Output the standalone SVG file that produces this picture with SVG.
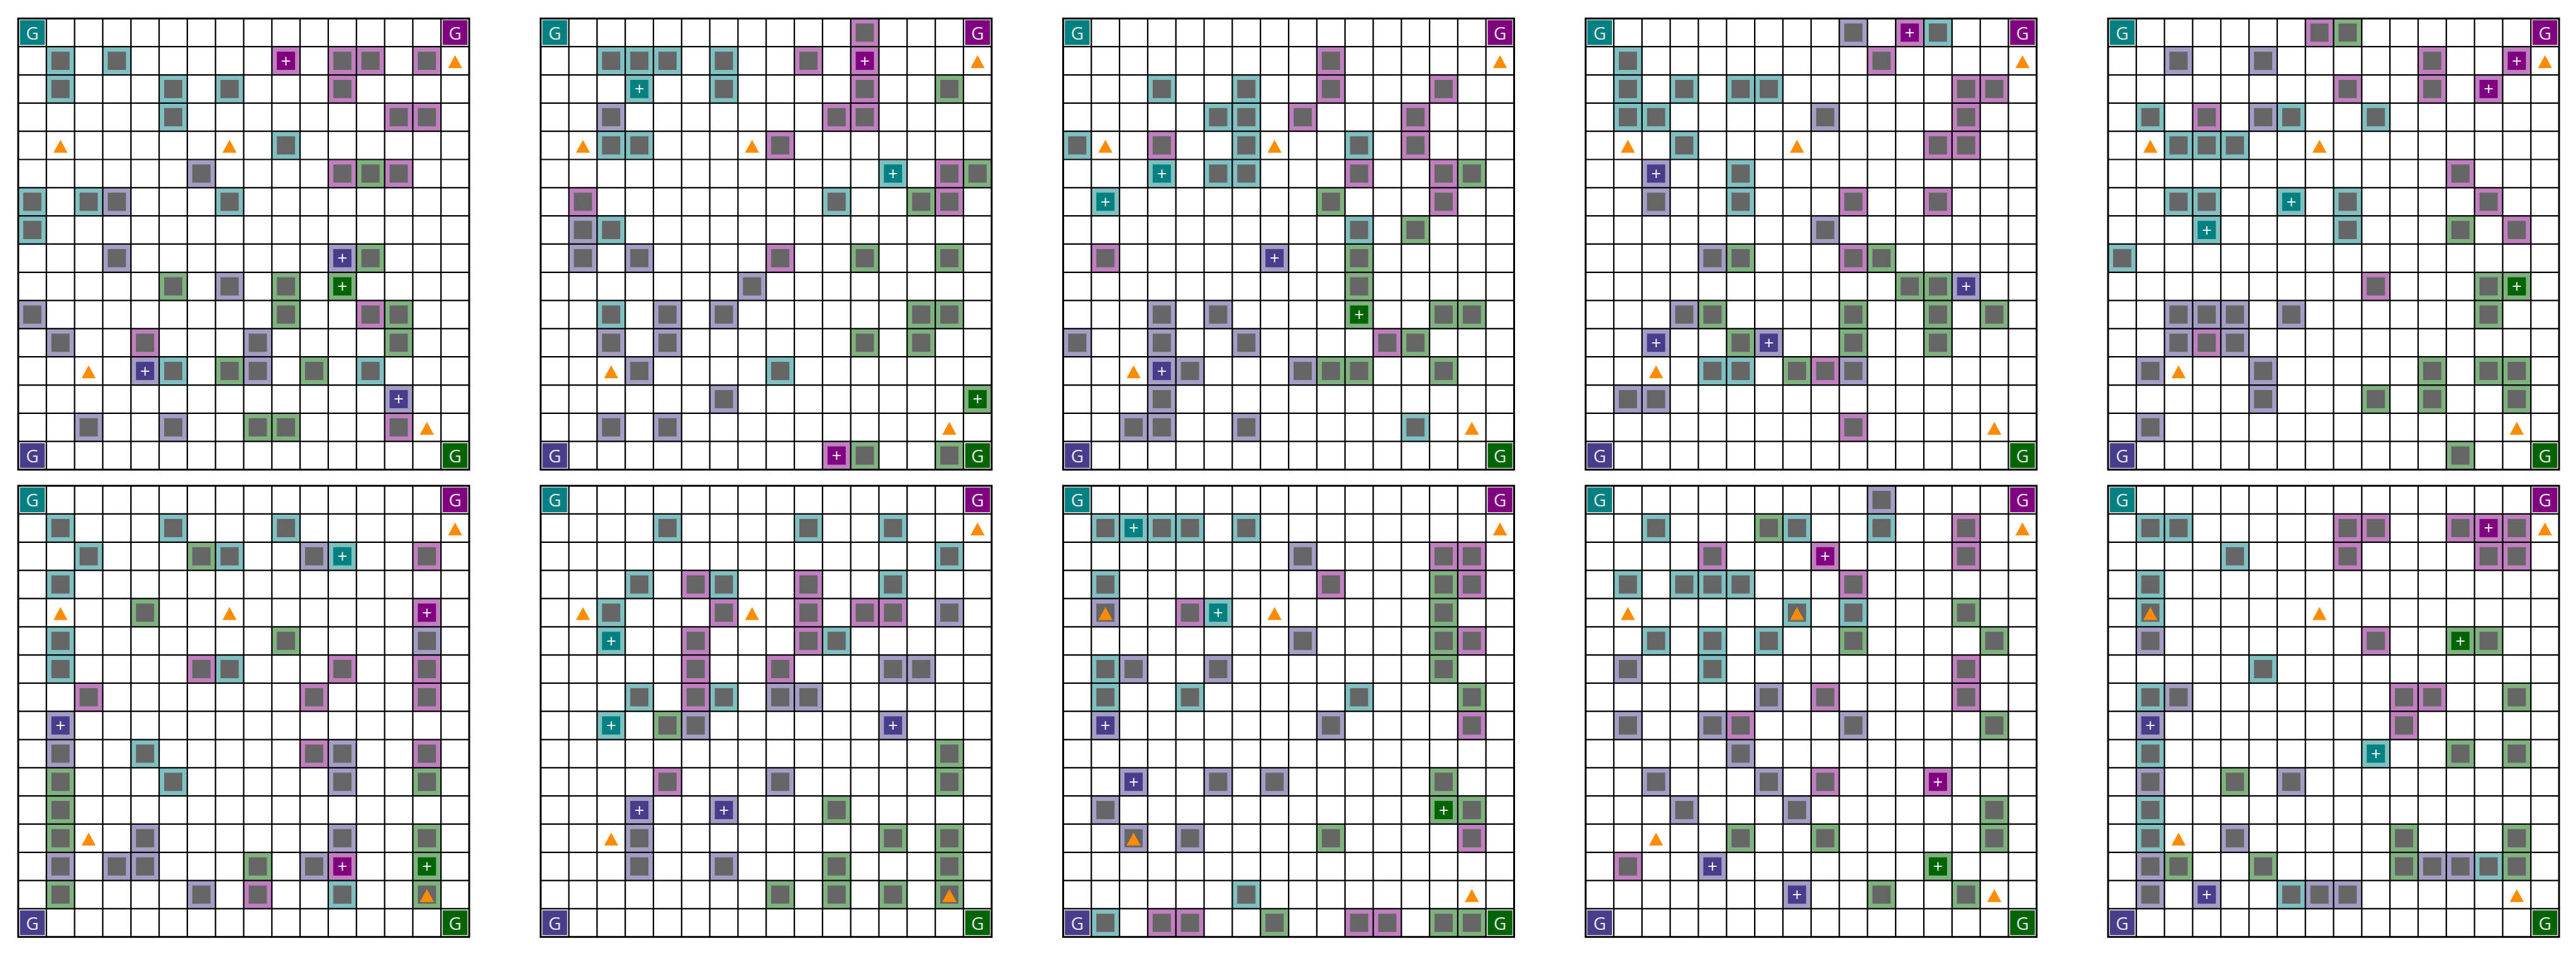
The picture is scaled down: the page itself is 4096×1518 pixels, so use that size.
<svg xmlns="http://www.w3.org/2000/svg" width="4096" height="1518" viewBox="0 0 4096 1518">
<style>
.gt{font-family:"Open Sans","DejaVu Sans",sans-serif;font-size:30px;fill:#e6e6e6;text-anchor:middle}
.pl{font-family:"DejaVu Sans",sans-serif;font-size:22px;fill:#ffffff;text-anchor:middle;dominant-baseline:central}
.gs{stroke:#e0e0e0;stroke-width:1}
.gray{fill:#666666}
</style>
<defs>
<g id="a"><rect width="48" height="48" fill="#80c0c0"/><rect class="gray" x="8.5" y="8.5" width="31" height="31"/></g>
<g id="b"><rect width="48" height="48" fill="#c080c0"/><rect class="gray" x="8.5" y="8.5" width="31" height="31"/></g>
<g id="c"><rect width="48" height="48" fill="#a49ec5"/><rect class="gray" x="8.5" y="8.5" width="31" height="31"/></g>
<g id="d"><rect width="48" height="48" fill="#80b280"/><rect class="gray" x="8.5" y="8.5" width="31" height="31"/></g>
<g id="A"><rect width="48" height="48" fill="#80c0c0"/><rect x="8.5" y="8.5" width="31" height="31" fill="#008080"/><text class="pl" x="24" y="24">+</text></g>
<g id="B"><rect width="48" height="48" fill="#c080c0"/><rect x="8.5" y="8.5" width="31" height="31" fill="#800080"/><text class="pl" x="24" y="24">+</text></g>
<g id="C"><rect width="48" height="48" fill="#a49ec5"/><rect x="8.5" y="8.5" width="31" height="31" fill="#483d8b"/><text class="pl" x="24" y="24">+</text></g>
<g id="D"><rect width="48" height="48" fill="#80b280"/><rect x="8.5" y="8.5" width="31" height="31" fill="#006400"/><text class="pl" x="24" y="24">+</text></g>
<g id="lines">
<path d="M48 0V768M96 0V768M144 0V768M192 0V768M240 0V768M288 0V768M336 0V768M384 0V768M432 0V768M480 0V768M528 0V768M576 0V768M624 0V768M672 0V768M720 0V768M0 48H768M0 96H768M0 144H768M0 192H768M0 240H768M0 288H768M0 336H768M0 384H768M0 432H768M0 480H768M0 528H768M0 576H768M0 624H768M0 672H768M0 720H768" stroke="#000" stroke-width="2.4" fill="none"/>
<rect width="768" height="768" fill="none" stroke="#000" stroke-width="3.2"/>
</g>
<g id="corners">
<rect class="gs" x="2.5" y="2.5" width="43" height="43" fill="#008080"/><text class="gt" x="24" y="35.5">G</text>
<rect class="gs" x="722.5" y="2.5" width="43" height="43" fill="#800080"/><text class="gt" x="744" y="35.5">G</text>
<rect class="gs" x="2.5" y="722.5" width="43" height="43" fill="#483d8b"/><text class="gt" x="24" y="755.5">G</text>
<rect class="gs" x="722.5" y="722.5" width="43" height="43" fill="#006400"/><text class="gt" x="744" y="755.5">G</text>
</g>
<g id="tris" fill="#ff8c00">
<polygon points="744,62.5 732,84.5 756,84.5"/>
<polygon points="72,206.5 60,228.5 84,228.5"/>
<polygon points="360,206.5 348,228.5 372,228.5"/>
<polygon points="120,590.5 108,612.5 132,612.5"/>
<polygon points="696,686.5 684,708.5 708,708.5"/>
</g>
</defs>
<rect width="4096" height="1518" fill="#ffffff"/>
<g transform="scale(0.9337)">

<g id="grid1" transform="translate(31,31.5)">
<use href="#a" x="48" y="48"/><use href="#a" x="144" y="48"/><use href="#B" x="432" y="48"/><use href="#b" x="528" y="48"/><use href="#b" x="576" y="48"/><use href="#b" x="672" y="48"/>
<use href="#a" x="48" y="96"/><use href="#a" x="240" y="96"/><use href="#a" x="336" y="96"/><use href="#b" x="528" y="96"/>
<use href="#a" x="240" y="144"/><use href="#b" x="624" y="144"/><use href="#b" x="672" y="144"/>
<use href="#a" x="432" y="192"/>
<use href="#c" x="288" y="240"/><use href="#b" x="528" y="240"/><use href="#d" x="576" y="240"/><use href="#b" x="624" y="240"/>
<use href="#a" x="0" y="288"/><use href="#a" x="96" y="288"/><use href="#c" x="144" y="288"/><use href="#a" x="336" y="288"/>
<use href="#a" x="0" y="336"/>
<use href="#c" x="144" y="384"/><use href="#C" x="528" y="384"/><use href="#d" x="576" y="384"/>
<use href="#d" x="240" y="432"/><use href="#c" x="336" y="432"/><use href="#d" x="432" y="432"/><use href="#D" x="528" y="432"/>
<use href="#c" x="0" y="480"/><use href="#d" x="432" y="480"/><use href="#b" x="576" y="480"/><use href="#d" x="624" y="480"/>
<use href="#c" x="48" y="528"/><use href="#b" x="192" y="528"/><use href="#c" x="384" y="528"/><use href="#d" x="624" y="528"/>
<use href="#C" x="192" y="576"/><use href="#a" x="240" y="576"/><use href="#d" x="336" y="576"/><use href="#c" x="384" y="576"/><use href="#d" x="480" y="576"/><use href="#a" x="576" y="576"/>
<use href="#C" x="624" y="624"/>
<use href="#c" x="96" y="672"/><use href="#c" x="240" y="672"/><use href="#d" x="384" y="672"/><use href="#d" x="432" y="672"/><use href="#b" x="624" y="672"/>
<use href="#lines"/><use href="#corners"/><use href="#tris"/>
</g>

<g id="grid2" transform="translate(920.75,31.5)">
<use href="#b" x="528" y="0"/>
<use href="#a" x="96" y="48"/><use href="#a" x="144" y="48"/><use href="#a" x="192" y="48"/><use href="#a" x="288" y="48"/><use href="#b" x="432" y="48"/><use href="#B" x="528" y="48"/>
<use href="#A" x="144" y="96"/><use href="#a" x="288" y="96"/><use href="#b" x="528" y="96"/><use href="#d" x="672" y="96"/>
<use href="#c" x="96" y="144"/><use href="#b" x="480" y="144"/><use href="#b" x="528" y="144"/>
<use href="#a" x="96" y="192"/><use href="#a" x="144" y="192"/><use href="#b" x="384" y="192"/>
<use href="#A" x="576" y="240"/><use href="#b" x="672" y="240"/><use href="#d" x="720" y="240"/>
<use href="#b" x="48" y="288"/><use href="#a" x="480" y="288"/><use href="#d" x="624" y="288"/><use href="#b" x="672" y="288"/>
<use href="#c" x="48" y="336"/><use href="#a" x="96" y="336"/>
<use href="#c" x="48" y="384"/><use href="#c" x="144" y="384"/><use href="#b" x="384" y="384"/><use href="#d" x="528" y="384"/><use href="#d" x="672" y="384"/>
<use href="#c" x="336" y="432"/>
<use href="#a" x="96" y="480"/><use href="#c" x="192" y="480"/><use href="#c" x="288" y="480"/><use href="#d" x="624" y="480"/><use href="#d" x="672" y="480"/>
<use href="#c" x="96" y="528"/><use href="#c" x="192" y="528"/><use href="#d" x="528" y="528"/><use href="#d" x="624" y="528"/>
<use href="#c" x="144" y="576"/><use href="#a" x="384" y="576"/>
<use href="#c" x="288" y="624"/><use href="#D" x="720" y="624"/>
<use href="#c" x="96" y="672"/><use href="#c" x="192" y="672"/>
<use href="#B" x="480" y="720"/><use href="#d" x="528" y="720"/><use href="#d" x="672" y="720"/>
<use href="#lines"/><use href="#corners"/><use href="#tris"/>
</g>

<g id="grid3" transform="translate(1810.5,31.5)">
<use href="#b" x="432" y="48"/>
<use href="#a" x="144" y="96"/><use href="#a" x="288" y="96"/><use href="#b" x="432" y="96"/><use href="#b" x="624" y="96"/>
<use href="#a" x="240" y="144"/><use href="#a" x="288" y="144"/><use href="#b" x="384" y="144"/><use href="#b" x="576" y="144"/>
<use href="#a" x="0" y="192"/><use href="#b" x="144" y="192"/><use href="#a" x="288" y="192"/><use href="#a" x="480" y="192"/><use href="#b" x="576" y="192"/>
<use href="#A" x="144" y="240"/><use href="#a" x="240" y="240"/><use href="#a" x="288" y="240"/><use href="#b" x="480" y="240"/><use href="#b" x="624" y="240"/><use href="#d" x="672" y="240"/>
<use href="#A" x="48" y="288"/><use href="#d" x="432" y="288"/><use href="#b" x="624" y="288"/>
<use href="#a" x="480" y="336"/><use href="#d" x="576" y="336"/>
<use href="#b" x="48" y="384"/><use href="#C" x="336" y="384"/><use href="#d" x="480" y="384"/>
<use href="#d" x="480" y="432"/>
<use href="#c" x="144" y="480"/><use href="#c" x="240" y="480"/><use href="#D" x="480" y="480"/><use href="#d" x="624" y="480"/><use href="#d" x="672" y="480"/>
<use href="#c" x="0" y="528"/><use href="#c" x="144" y="528"/><use href="#c" x="288" y="528"/><use href="#b" x="528" y="528"/><use href="#d" x="576" y="528"/>
<use href="#C" x="144" y="576"/><use href="#c" x="192" y="576"/><use href="#c" x="384" y="576"/><use href="#d" x="432" y="576"/><use href="#d" x="480" y="576"/><use href="#d" x="624" y="576"/>
<use href="#c" x="144" y="624"/>
<use href="#c" x="96" y="672"/><use href="#c" x="144" y="672"/><use href="#c" x="288" y="672"/><use href="#a" x="576" y="672"/>
<use href="#lines"/><use href="#corners"/><use href="#tris"/>
</g>

<g id="grid4" transform="translate(2700.25,31.5)">
<use href="#c" x="432" y="0"/><use href="#B" x="528" y="0"/><use href="#a" x="576" y="0"/>
<use href="#a" x="48" y="48"/><use href="#b" x="480" y="48"/>
<use href="#a" x="48" y="96"/><use href="#a" x="144" y="96"/><use href="#a" x="240" y="96"/><use href="#a" x="288" y="96"/><use href="#b" x="624" y="96"/><use href="#b" x="672" y="96"/>
<use href="#a" x="48" y="144"/><use href="#a" x="96" y="144"/><use href="#c" x="384" y="144"/><use href="#b" x="624" y="144"/>
<use href="#a" x="144" y="192"/><use href="#b" x="576" y="192"/><use href="#b" x="624" y="192"/>
<use href="#C" x="96" y="240"/><use href="#a" x="240" y="240"/>
<use href="#c" x="96" y="288"/><use href="#a" x="240" y="288"/><use href="#b" x="432" y="288"/><use href="#b" x="576" y="288"/>
<use href="#c" x="384" y="336"/>
<use href="#c" x="192" y="384"/><use href="#d" x="240" y="384"/><use href="#b" x="432" y="384"/><use href="#d" x="480" y="384"/>
<use href="#d" x="528" y="432"/><use href="#d" x="576" y="432"/><use href="#C" x="624" y="432"/>
<use href="#c" x="144" y="480"/><use href="#d" x="192" y="480"/><use href="#d" x="432" y="480"/><use href="#d" x="576" y="480"/><use href="#d" x="672" y="480"/>
<use href="#C" x="96" y="528"/><use href="#d" x="240" y="528"/><use href="#C" x="288" y="528"/><use href="#d" x="432" y="528"/><use href="#d" x="576" y="528"/>
<use href="#a" x="192" y="576"/><use href="#a" x="240" y="576"/><use href="#d" x="336" y="576"/><use href="#b" x="384" y="576"/><use href="#c" x="432" y="576"/>
<use href="#c" x="48" y="624"/><use href="#c" x="96" y="624"/>
<use href="#b" x="432" y="672"/>
<use href="#lines"/><use href="#corners"/><use href="#tris"/>
</g>

<g id="grid5" transform="translate(3590,31.5)">
<use href="#b" x="336" y="0"/><use href="#d" x="384" y="0"/>
<use href="#c" x="96" y="48"/><use href="#c" x="240" y="48"/><use href="#b" x="528" y="48"/><use href="#B" x="672" y="48"/>
<use href="#b" x="384" y="96"/><use href="#b" x="528" y="96"/><use href="#B" x="624" y="96"/>
<use href="#a" x="48" y="144"/><use href="#b" x="144" y="144"/><use href="#c" x="240" y="144"/><use href="#a" x="288" y="144"/><use href="#a" x="432" y="144"/>
<use href="#a" x="96" y="192"/><use href="#a" x="144" y="192"/><use href="#a" x="192" y="192"/>
<use href="#b" x="576" y="240"/>
<use href="#a" x="96" y="288"/><use href="#a" x="144" y="288"/><use href="#A" x="288" y="288"/><use href="#a" x="384" y="288"/><use href="#b" x="624" y="288"/>
<use href="#A" x="144" y="336"/><use href="#a" x="384" y="336"/><use href="#d" x="576" y="336"/><use href="#b" x="672" y="336"/>
<use href="#a" x="0" y="384"/>
<use href="#b" x="432" y="432"/><use href="#d" x="624" y="432"/><use href="#D" x="672" y="432"/>
<use href="#c" x="96" y="480"/><use href="#c" x="144" y="480"/><use href="#c" x="192" y="480"/><use href="#c" x="288" y="480"/><use href="#d" x="624" y="480"/>
<use href="#c" x="96" y="528"/><use href="#b" x="144" y="528"/><use href="#c" x="192" y="528"/>
<use href="#c" x="48" y="576"/><use href="#c" x="240" y="576"/><use href="#d" x="528" y="576"/><use href="#d" x="624" y="576"/><use href="#d" x="672" y="576"/>
<use href="#c" x="240" y="624"/><use href="#d" x="432" y="624"/><use href="#d" x="528" y="624"/><use href="#d" x="672" y="624"/>
<use href="#c" x="48" y="672"/>
<use href="#d" x="576" y="720"/>
<use href="#lines"/><use href="#corners"/><use href="#tris"/>
</g>

<g id="grid6" transform="translate(31,827)">
<use href="#a" x="48" y="48"/><use href="#a" x="240" y="48"/><use href="#a" x="432" y="48"/>
<use href="#a" x="96" y="96"/><use href="#d" x="288" y="96"/><use href="#a" x="336" y="96"/><use href="#c" x="480" y="96"/><use href="#A" x="528" y="96"/><use href="#b" x="672" y="96"/>
<use href="#a" x="48" y="144"/>
<use href="#d" x="192" y="192"/><use href="#B" x="672" y="192"/>
<use href="#a" x="48" y="240"/><use href="#d" x="432" y="240"/><use href="#c" x="672" y="240"/>
<use href="#a" x="48" y="288"/><use href="#b" x="288" y="288"/><use href="#a" x="336" y="288"/><use href="#b" x="528" y="288"/><use href="#b" x="672" y="288"/>
<use href="#b" x="96" y="336"/><use href="#b" x="480" y="336"/><use href="#b" x="672" y="336"/>
<use href="#C" x="48" y="384"/>
<use href="#c" x="48" y="432"/><use href="#a" x="192" y="432"/><use href="#b" x="480" y="432"/><use href="#c" x="528" y="432"/><use href="#b" x="672" y="432"/>
<use href="#d" x="48" y="480"/><use href="#a" x="240" y="480"/><use href="#c" x="528" y="480"/><use href="#d" x="672" y="480"/>
<use href="#d" x="48" y="528"/>
<use href="#d" x="48" y="576"/><use href="#c" x="192" y="576"/><use href="#c" x="528" y="576"/><use href="#d" x="672" y="576"/>
<use href="#c" x="48" y="624"/><use href="#c" x="144" y="624"/><use href="#c" x="192" y="624"/><use href="#d" x="384" y="624"/><use href="#c" x="480" y="624"/><use href="#B" x="528" y="624"/><use href="#D" x="672" y="624"/>
<use href="#d" x="48" y="672"/><use href="#c" x="288" y="672"/><use href="#b" x="384" y="672"/><use href="#a" x="528" y="672"/><use href="#d" x="672" y="672"/>
<use href="#lines"/><use href="#corners"/><use href="#tris"/>
</g>

<g id="grid7" transform="translate(920.75,827)">
<use href="#a" x="192" y="48"/><use href="#a" x="432" y="48"/><use href="#a" x="576" y="48"/>
<use href="#a" x="672" y="96"/>
<use href="#a" x="144" y="144"/><use href="#b" x="240" y="144"/><use href="#a" x="288" y="144"/><use href="#b" x="432" y="144"/><use href="#a" x="576" y="144"/>
<use href="#a" x="96" y="192"/><use href="#b" x="288" y="192"/><use href="#b" x="432" y="192"/><use href="#b" x="528" y="192"/><use href="#b" x="576" y="192"/><use href="#c" x="672" y="192"/>
<use href="#A" x="96" y="240"/><use href="#b" x="240" y="240"/><use href="#b" x="432" y="240"/><use href="#a" x="480" y="240"/>
<use href="#b" x="240" y="288"/><use href="#b" x="384" y="288"/><use href="#c" x="576" y="288"/><use href="#c" x="624" y="288"/>
<use href="#a" x="144" y="336"/><use href="#b" x="240" y="336"/><use href="#a" x="288" y="336"/><use href="#c" x="384" y="336"/><use href="#c" x="432" y="336"/>
<use href="#A" x="96" y="384"/><use href="#d" x="192" y="384"/><use href="#c" x="240" y="384"/><use href="#C" x="576" y="384"/>
<use href="#d" x="672" y="432"/>
<use href="#b" x="192" y="480"/><use href="#c" x="384" y="480"/><use href="#d" x="672" y="480"/>
<use href="#C" x="144" y="528"/><use href="#C" x="288" y="528"/><use href="#d" x="480" y="528"/>
<use href="#c" x="144" y="576"/><use href="#d" x="576" y="576"/><use href="#d" x="672" y="576"/>
<use href="#c" x="144" y="624"/><use href="#c" x="288" y="624"/><use href="#d" x="480" y="624"/><use href="#d" x="672" y="624"/>
<use href="#d" x="384" y="672"/><use href="#d" x="480" y="672"/><use href="#d" x="576" y="672"/><use href="#d" x="672" y="672"/>
<use href="#lines"/><use href="#corners"/><use href="#tris"/>
</g>

<g id="grid8" transform="translate(1810.5,827)">
<use href="#a" x="48" y="48"/><use href="#A" x="96" y="48"/><use href="#a" x="144" y="48"/><use href="#a" x="192" y="48"/><use href="#a" x="288" y="48"/>
<use href="#c" x="384" y="96"/><use href="#b" x="624" y="96"/><use href="#b" x="672" y="96"/>
<use href="#a" x="48" y="144"/><use href="#b" x="432" y="144"/><use href="#d" x="624" y="144"/><use href="#b" x="672" y="144"/>
<use href="#c" x="48" y="192"/><use href="#b" x="192" y="192"/><use href="#A" x="240" y="192"/><use href="#d" x="624" y="192"/>
<use href="#c" x="384" y="240"/><use href="#d" x="624" y="240"/><use href="#b" x="672" y="240"/>
<use href="#a" x="48" y="288"/><use href="#c" x="96" y="288"/><use href="#c" x="240" y="288"/><use href="#d" x="624" y="288"/>
<use href="#a" x="48" y="336"/><use href="#a" x="192" y="336"/><use href="#a" x="480" y="336"/><use href="#d" x="672" y="336"/>
<use href="#C" x="48" y="384"/><use href="#c" x="432" y="384"/><use href="#b" x="672" y="384"/>
<use href="#C" x="96" y="480"/><use href="#c" x="240" y="480"/><use href="#c" x="336" y="480"/><use href="#d" x="624" y="480"/>
<use href="#c" x="48" y="528"/><use href="#D" x="624" y="528"/><use href="#d" x="672" y="528"/>
<use href="#c" x="96" y="576"/><use href="#c" x="192" y="576"/><use href="#d" x="432" y="576"/><use href="#b" x="672" y="576"/>
<use href="#a" x="288" y="672"/>
<use href="#a" x="48" y="720"/><use href="#b" x="144" y="720"/><use href="#b" x="192" y="720"/><use href="#d" x="336" y="720"/><use href="#b" x="480" y="720"/><use href="#b" x="528" y="720"/><use href="#d" x="624" y="720"/><use href="#d" x="672" y="720"/>
<use href="#lines"/><use href="#corners"/><use href="#tris"/>
</g>

<g id="grid9" transform="translate(2700.25,827)">
<use href="#c" x="480" y="0"/>
<use href="#a" x="96" y="48"/><use href="#d" x="288" y="48"/><use href="#a" x="336" y="48"/><use href="#a" x="480" y="48"/><use href="#b" x="624" y="48"/>
<use href="#b" x="192" y="96"/><use href="#B" x="384" y="96"/><use href="#b" x="624" y="96"/>
<use href="#a" x="48" y="144"/><use href="#a" x="144" y="144"/><use href="#a" x="192" y="144"/><use href="#a" x="240" y="144"/><use href="#b" x="432" y="144"/>
<use href="#a" x="336" y="192"/><use href="#a" x="432" y="192"/><use href="#d" x="624" y="192"/>
<use href="#a" x="96" y="240"/><use href="#a" x="192" y="240"/><use href="#a" x="288" y="240"/><use href="#d" x="432" y="240"/><use href="#d" x="672" y="240"/>
<use href="#c" x="48" y="288"/><use href="#a" x="192" y="288"/><use href="#b" x="624" y="288"/>
<use href="#c" x="288" y="336"/><use href="#b" x="384" y="336"/><use href="#b" x="624" y="336"/>
<use href="#c" x="48" y="384"/><use href="#c" x="192" y="384"/><use href="#b" x="240" y="384"/><use href="#c" x="432" y="384"/><use href="#d" x="672" y="384"/>
<use href="#c" x="240" y="432"/>
<use href="#c" x="96" y="480"/><use href="#c" x="288" y="480"/><use href="#b" x="384" y="480"/><use href="#B" x="576" y="480"/>
<use href="#c" x="144" y="528"/><use href="#c" x="336" y="528"/><use href="#d" x="672" y="528"/>
<use href="#d" x="240" y="576"/><use href="#d" x="384" y="576"/><use href="#d" x="672" y="576"/>
<use href="#b" x="48" y="624"/><use href="#C" x="192" y="624"/><use href="#D" x="576" y="624"/>
<use href="#C" x="336" y="672"/><use href="#d" x="480" y="672"/><use href="#d" x="624" y="672"/>
<use href="#lines"/><use href="#corners"/><use href="#tris"/>
</g>

<g id="grid10" transform="translate(3590,827)">
<use href="#a" x="48" y="48"/><use href="#a" x="96" y="48"/><use href="#b" x="384" y="48"/><use href="#b" x="432" y="48"/><use href="#b" x="576" y="48"/><use href="#B" x="624" y="48"/><use href="#b" x="672" y="48"/>
<use href="#a" x="192" y="96"/><use href="#b" x="384" y="96"/><use href="#b" x="624" y="96"/><use href="#b" x="672" y="96"/>
<use href="#a" x="48" y="144"/>
<use href="#a" x="48" y="192"/>
<use href="#c" x="48" y="240"/><use href="#b" x="432" y="240"/><use href="#D" x="576" y="240"/><use href="#d" x="624" y="240"/>
<use href="#a" x="240" y="288"/>
<use href="#a" x="48" y="336"/><use href="#c" x="96" y="336"/><use href="#b" x="480" y="336"/><use href="#b" x="528" y="336"/><use href="#d" x="672" y="336"/>
<use href="#C" x="48" y="384"/><use href="#b" x="480" y="384"/>
<use href="#a" x="48" y="432"/><use href="#A" x="432" y="432"/><use href="#d" x="576" y="432"/><use href="#d" x="672" y="432"/>
<use href="#c" x="48" y="480"/><use href="#d" x="192" y="480"/><use href="#c" x="288" y="480"/>
<use href="#a" x="48" y="528"/>
<use href="#a" x="48" y="576"/><use href="#c" x="192" y="576"/><use href="#d" x="480" y="576"/><use href="#d" x="672" y="576"/>
<use href="#c" x="48" y="624"/><use href="#d" x="96" y="624"/><use href="#d" x="240" y="624"/><use href="#d" x="480" y="624"/><use href="#c" x="528" y="624"/><use href="#c" x="576" y="624"/><use href="#a" x="624" y="624"/><use href="#d" x="672" y="624"/>
<use href="#c" x="48" y="672"/><use href="#C" x="144" y="672"/><use href="#a" x="288" y="672"/><use href="#c" x="336" y="672"/><use href="#c" x="384" y="672"/>
<use href="#lines"/><use href="#corners"/><use href="#tris"/>
</g>

</g>
</svg>
